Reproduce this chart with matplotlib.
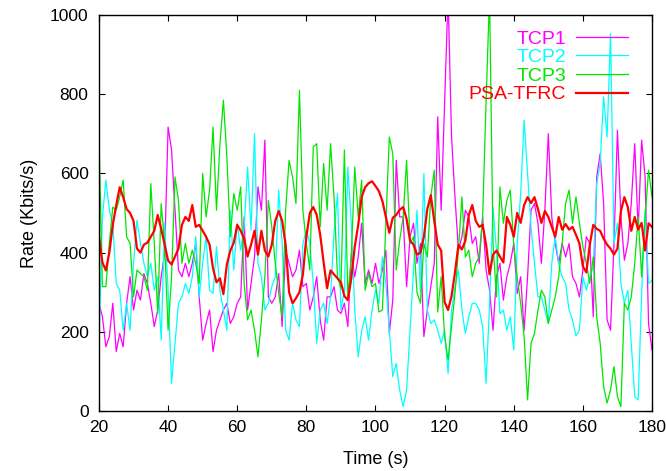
import numpy as np
import matplotlib
matplotlib.use('Agg')
import matplotlib.pyplot as plt

plt.rcParams['font.family'] = ['Liberation Sans', 'DejaVu Sans']

# sending rate of each flow, one sample per second from t=20s to t=180s
time_s = np.arange(20, 181)

tcp1 = [272, 238, 162, 188, 272, 150, 196, 162, 272, 339,
        255, 305, 280, 347, 322, 272, 213, 255, 339, 398,
        717, 659, 507, 356, 339, 373, 339, 373, 423, 288,
        179, 221, 255, 150, 204, 230, 255, 272, 221, 238,
        272, 288, 490, 255, 322, 389, 566, 507, 684, 288,
        272, 288, 347, 213, 406, 373, 339, 356, 406, 314,
        322, 255, 288, 339, 230, 179, 288, 288, 314, 255,
        246, 272, 213, 398, 339, 389, 474, 322, 356, 322,
        373, 322, 356, 406, 196, 280, 633, 490, 490, 314,
        440, 474, 373, 423, 188, 255, 314, 373, 743, 507,
        776, 1050, 692, 540, 406, 440, 507, 490, 423, 440,
        373, 490, 356, 305, 204, 339, 373, 280, 339, 373,
        423, 297, 339, 204, 339, 507, 524, 474, 373, 507,
        700, 490, 423, 373, 423, 389, 423, 339, 322, 288,
        356, 440, 423, 238, 591, 650, 524, 230, 204, 423,
        709, 490, 381, 423, 524, 675, 457, 684, 591, 221,
        154]

tcp2 = [171, 490, 583, 507, 474, 322, 305, 204, 272, 204,
        373, 482, 423, 373, 339, 373, 305, 339, 179, 474,
        305, 70, 171, 272, 288, 322, 297, 339, 440, 288,
        373, 440, 305, 297, 415, 305, 255, 204, 507, 356,
        474, 406, 465, 616, 457, 700, 373, 339, 255, 272,
        314, 339, 558, 423, 204, 179, 272, 230, 213, 423,
        457, 423, 322, 171, 255, 272, 221, 290, 450, 549,
        255, 305, 616, 474, 255, 137, 204, 238, 179, 255,
        305, 272, 389, 322, 204, 87, 120, 53, 11, 53,
        204, 356, 507, 300, 600, 255, 221, 230, 204, 171,
        204, 95, 255, 314, 356, 255, 196, 238, 272, 272,
        255, 213, 70, 272, 515, 406, 246, 255, 204, 238,
        154, 423, 549, 734, 600, 465, 373, 288, 288, 255,
        221, 373, 440, 373, 339, 322, 255, 230, 190, 204,
        339, 305, 339, 364, 574, 625, 793, 692, 953, 423,
        474, 322, 272, 305, 171, 36, 28, 297, 507, 322,
        330]

tcp3 = [692, 314, 314, 423, 515, 507, 541, 583, 440, 423,
        288, 356, 347, 339, 305, 574, 423, 246, 524, 423,
        204, 339, 591, 532, 373, 423, 373, 406, 373, 322,
        600, 490, 558, 717, 507, 675, 785, 642, 440, 549,
        507, 566, 322, 230, 255, 204, 137, 230, 339, 532,
        465, 373, 297, 238, 507, 633, 591, 524, 810, 507,
        423, 356, 667, 675, 465, 625, 507, 675, 540, 340,
        310, 659, 290, 389, 616, 490, 583, 305, 347, 314,
        322, 250, 255, 474, 692, 650, 356, 431, 490, 633,
        423, 440, 300, 272, 423, 389, 541, 608, 250, 339,
        188, 129, 213, 297, 406, 541, 389, 406, 339, 373,
        389, 490, 785, 1050, 423, 288, 566, 474, 532, 558,
        420, 339, 272, 188, 28, 171, 196, 255, 305, 288,
        221, 255, 288, 339, 423, 524, 558, 474, 541, 474,
        415, 373, 322, 389, 238, 171, 61, 20, 53, 112,
        36, 11, 272, 255, 288, 373, 490, 339, 490, 608,
        541]

psa_tfrc = [440, 375, 355, 400, 470, 520, 565, 540, 510, 500,
            480, 410, 400, 420, 425, 440, 455, 495, 460, 420,
            380, 370, 390, 410, 470, 490, 480, 520, 465, 470,
            455, 440, 420, 360, 325, 335, 295, 370, 405, 425,
            470, 455, 435, 390, 420, 455, 395, 455, 405, 390,
            420, 480, 505, 480, 420, 300, 272, 285, 300, 345,
            440, 500, 515, 495, 445, 375, 310, 355, 345, 335,
            325, 290, 280, 335, 415, 470, 540, 565, 575, 580,
            568, 555, 530, 490, 450, 488, 495, 508, 515, 485,
            430, 420, 395, 400, 440, 510, 545, 480, 420, 405,
            275, 255, 290, 350, 420, 408, 430, 495, 520, 480,
            465, 470, 420, 345, 395, 405, 390, 375, 490, 470,
            440, 500, 475, 520, 540, 525, 540, 510, 475, 505,
            490, 465, 440, 490, 458, 472, 458, 465, 445, 423,
            365, 350, 420, 470, 460, 455, 435, 420, 410, 395,
            410, 505, 540, 515, 455, 490, 458, 475, 405, 474,
            465]

series = [('TCP1', tcp1, '#ff00ff', 0.9),
          ('TCP2', tcp2, '#00ffff', 0.9),
          ('TCP3', tcp3, '#00e600', 0.9),
          ('PSA-TFRC', psa_tfrc, '#ff0000', 1.6)]

fig = plt.figure(figsize=(6.66, 4.71), dpi=100)
ax = fig.add_axes([0.1486, 0.1274, 0.8304, 0.8408])

for name, values, color, lw in series:
    ax.plot(time_s, values, color=color, lw=lw, label=name)

ax.set_xlim(20, 180)
ax.set_ylim(0, 1000)
ax.set_xticks(np.arange(20, 181, 20))
ax.set_yticks(np.arange(0, 1001, 200))
ax.tick_params(direction='in', top=True, right=True, length=4.5, width=0.8,
               labelsize=12.5)
ax.tick_params(axis='x', pad=6.5)
ax.tick_params(axis='y', pad=7.5)
for spine in ax.spines.values():
    spine.set_linewidth(1.0)

ax.set_xlabel('Time (s)', fontsize=13)
ax.set_ylabel('Rate (Kbits/s)', fontsize=13)
ax.xaxis.set_label_coords(0.5, -0.100)
ax.yaxis.set_label_coords(-0.110, 0.5)

ax.legend(loc='upper right', bbox_to_anchor=(0.957, 0.962), frameon=False,
          markerfirst=False, labelcolor='linecolor', handlelength=2.7,
          handletextpad=0.5, labelspacing=0.05, borderpad=0,
          borderaxespad=0, fontsize=14)

fig.savefig('out.png', dpi=100)
